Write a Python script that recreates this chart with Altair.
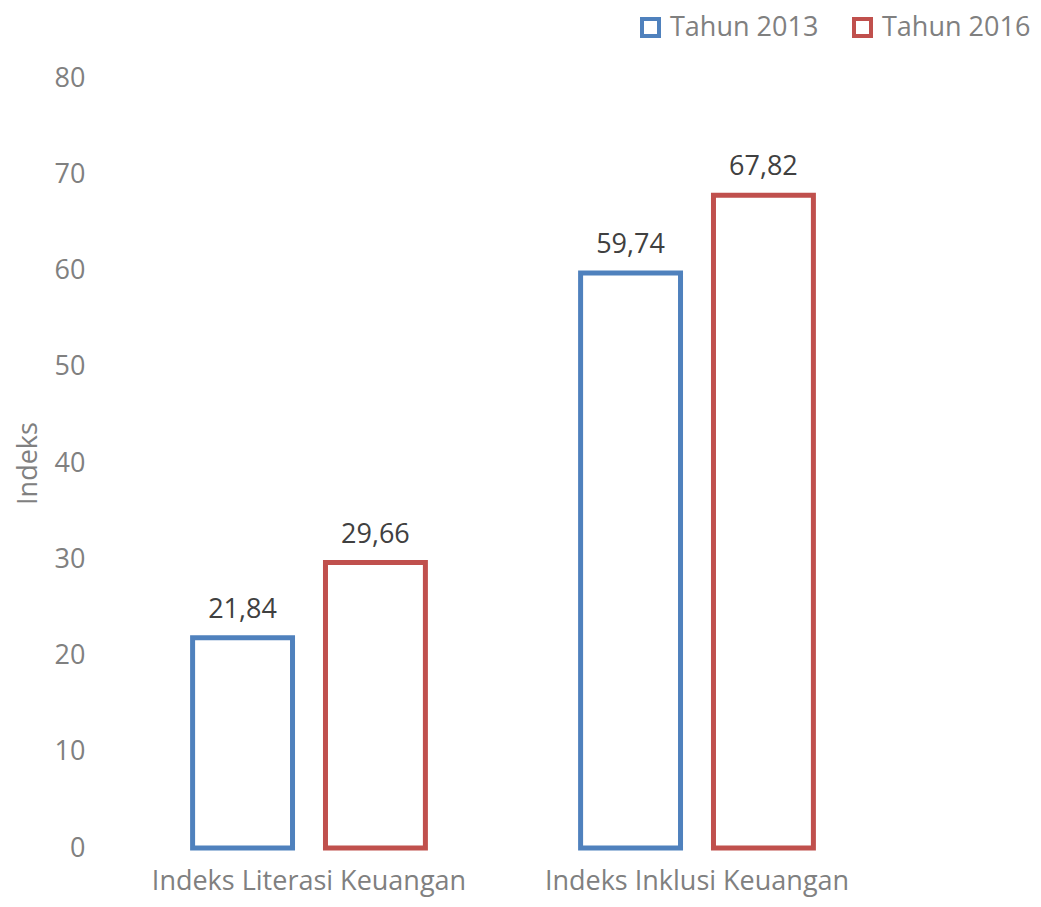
import altair as alt
import pandas as pd

categories = ["Indeks Literasi Keuangan", "Indeks Literasi Keuangan",
              "Indeks Inklusi Keuangan", "Indeks Inklusi Keuangan"]
series = ["Tahun 2013", "Tahun 2016", "Tahun 2013", "Tahun 2016"]
values = [21.84, 29.66, 59.74, 67.82]

df = pd.DataFrame({"kategori": categories, "tahun": series, "nilai": values})
df["label"] = df["nilai"].map(lambda v: f"{v:.2f}".replace(".", ","))

cat_order = ["Indeks Literasi Keuangan", "Indeks Inklusi Keuangan"]
ser_order = ["Tahun 2013", "Tahun 2016"]
colors = ["#4F81BD", "#C0504D"]
FONT = "Open Sans"
FS = 27

x = alt.X("kategori:N", sort=cat_order, title=None,
          scale=alt.Scale(paddingInner=0.4, paddingOuter=0.2),
          axis=alt.Axis(labelAngle=0, domain=False, ticks=False, labelFontSize=FS,
                        labelColor="#808080", labelFont=FONT, labelPadding=20,
                        labelLimit=0))
xoff = alt.XOffset("tahun:N", sort=ser_order,
                   scale=alt.Scale(paddingInner=0.248, paddingOuter=0))
y = alt.Y("nilai:Q", title="Indeks",
          scale=alt.Scale(domain=[0, 80]),
          axis=alt.Axis(values=list(range(0, 81, 10)), grid=False, domain=False, ticks=False,
                        labelFontSize=FS, labelColor="#808080", labelFont=FONT,
                        labelPadding=30, titleFontSize=FS, titleFontWeight="normal",
                        titleColor="#808080", titleFont=FONT, titlePadding=12))

bars = alt.Chart(df).mark_bar(fill="white", strokeWidth=5, strokeJoin="miter").encode(
    x=x, xOffset=xoff, y=y,
    stroke=alt.Stroke("tahun:N", sort=ser_order,
                      scale=alt.Scale(domain=ser_order, range=colors),
                      legend=alt.Legend(title=None, orient="none", direction="horizontal",
                                        legendX=522, legendY=-64, padding=0,
                                        symbolType="square", symbolSize=289,
                                        symbolStrokeWidth=4, symbolFillColor="white",
                                        labelFontSize=FS, labelColor="#808080",
                                        labelFont=FONT, labelOffset=6, columnPadding=27,
                                        symbolOffset=0, labelLimit=0)),
)

labels = alt.Chart(df).mark_text(baseline="bottom", dy=-14, fontSize=FS,
                                 color="#404040", font=FONT).encode(
    x=x, xOffset=xoff, y=y, text="label:N")

chart = alt.layer(bars, labels).properties(
    width=776, height=770,
    autosize=alt.AutoSizeParams(type="none"),
    padding={"left": 107, "top": 70, "right": 142, "bottom": 51},
).configure(background="white").configure_view(stroke=None)

chart.save("out.html", embed_options={"renderer": "svg", "actions": False})
